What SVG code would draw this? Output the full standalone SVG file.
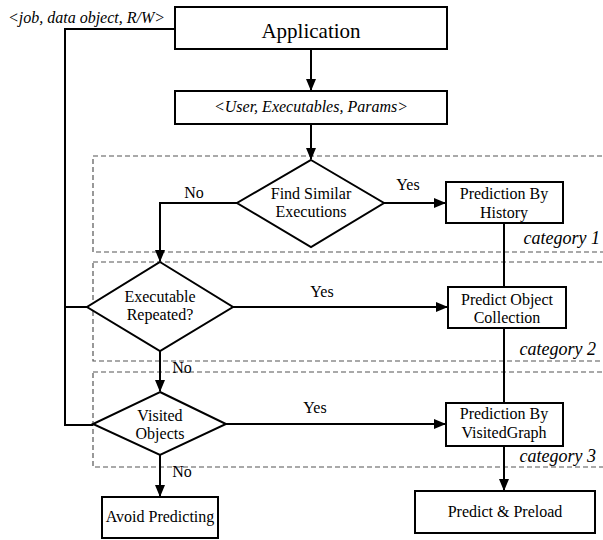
<svg xmlns="http://www.w3.org/2000/svg" width="603" height="540" viewBox="0 0 603 540" font-family="Liberation Serif, DejaVu Serif, serif">
  <style>
    .box { fill: #fff; stroke: #000; stroke-width: 2; }
    .zone { fill: none; stroke: #555; stroke-width: 1.2; stroke-dasharray: 5 3; }
    .line { fill: none; stroke: #000; stroke-width: 2; }
    .arrow { marker-end: url(#head); }
    text { font-family: 'Liberation Serif', 'DejaVu Serif', serif; fill: #000; }
    .lbl { font-size: 16px; text-anchor: middle; }
    .it { font-style: italic; }
    .cat { font-size: 18px; font-style: italic; text-anchor: end; }
  </style>
  <defs>
    <marker id="head" markerWidth="12" markerHeight="10" refX="11" refY="5" orient="auto" markerUnits="userSpaceOnUse">
      <path d="M0,0 L12,5 L0,10 Z" fill="#000"/>
    </marker>
  </defs>

  <!-- category zones -->
  <g id="zones">
    <rect class="zone" x="93" y="156" width="520" height="96"/>
    <rect class="zone" x="93" y="262" width="520" height="99"/>
    <rect class="zone" x="93" y="372" width="520" height="95"/>
    <text class="cat" x="600" y="244">category 1</text>
    <text class="cat" x="596" y="355">category 2</text>
    <text class="cat" x="596" y="462">category 3</text>
  </g>

  <g id="connectors">
    <path class="line arrow" d="M311,49 V90"/>
    <path class="line arrow" d="M311,124 V159"/>
    <path class="line arrow" d="M237,203 H160 V261"/>
    <path class="line arrow" d="M384,203 H445"/>
    <path class="line" d="M504,223 V287"/>
    <path class="line arrow" d="M233,307 H447"/>
    <path class="line" d="M504,328 V403"/>
    <path class="line arrow" d="M160,351 V391"/>
    <path class="line arrow" d="M226,424 H445"/>
    <path class="line arrow" d="M504,446 V490"/>
    <path class="line arrow" d="M160,455 V496"/>
    <path class="line" d="M175,29 H65 V425 H93 M65,307 H87"/>
    <text class="lbl" x="194" y="198">No</text>
    <text class="lbl" x="408" y="190">Yes</text>
    <text class="lbl" x="322" y="297">Yes</text>
    <text class="lbl" x="182" y="373">No</text>
    <text class="lbl" x="315" y="413">Yes</text>
    <text class="lbl" x="182" y="477">No</text>
    <text class="lbl it" x="86.5" y="23">&lt;job, data object, R/W&gt;</text>
  </g>

  <g id="application">
    <rect class="box" x="175" y="7" width="272" height="42"/>
    <text x="311" y="38" style="font-size:21px" text-anchor="middle">Application</text>
  </g>

  <g id="params">
    <rect class="box" x="175" y="91" width="272" height="33"/>
    <text class="lbl it" x="311" y="112">&lt;User, Executables, Params&gt;</text>
  </g>

  <g id="find-similar">
    <polygon class="box" points="311,160 384,203 311,247 237,203"/>
    <text class="lbl" x="311" y="199">Find Similar</text>
    <text class="lbl" x="311" y="217">Executions</text>
  </g>

  <g id="prediction-history">
    <rect class="box" x="446" y="182" width="117" height="41"/>
    <text class="lbl" x="504" y="199">Prediction By</text>
    <text class="lbl" x="504" y="218">History</text>
  </g>

  <g id="executable-repeated">
    <polygon class="box" points="160,262 233,307 160,351 87,307"/>
    <text class="lbl" x="160" y="302">Executable</text>
    <text class="lbl" x="160" y="320">Repeated?</text>
  </g>

  <g id="predict-collection">
    <rect class="box" x="448" y="287" width="118" height="41"/>
    <text class="lbl" x="507" y="305">Predict Object</text>
    <text class="lbl" x="507" y="323">Collection</text>
  </g>

  <g id="visited-objects">
    <polygon class="box" points="160,392 226,424 160,455 93,424"/>
    <text class="lbl" x="160" y="421">Visited</text>
    <text class="lbl" x="160" y="439">Objects</text>
  </g>

  <g id="prediction-graph">
    <rect class="box" x="446" y="403" width="117" height="43"/>
    <text class="lbl" x="504" y="419">Prediction By</text>
    <text class="lbl" x="504" y="438">VisitedGraph</text>
  </g>

  <g id="avoid-predicting">
    <rect class="box" x="102" y="497" width="116" height="41"/>
    <text class="lbl" x="160" y="522">Avoid Predicting</text>
  </g>

  <g id="predict-preload">
    <rect class="box" x="415" y="491" width="180" height="42"/>
    <text class="lbl" x="505" y="517">Predict &amp; Preload</text>
  </g>
</svg>
